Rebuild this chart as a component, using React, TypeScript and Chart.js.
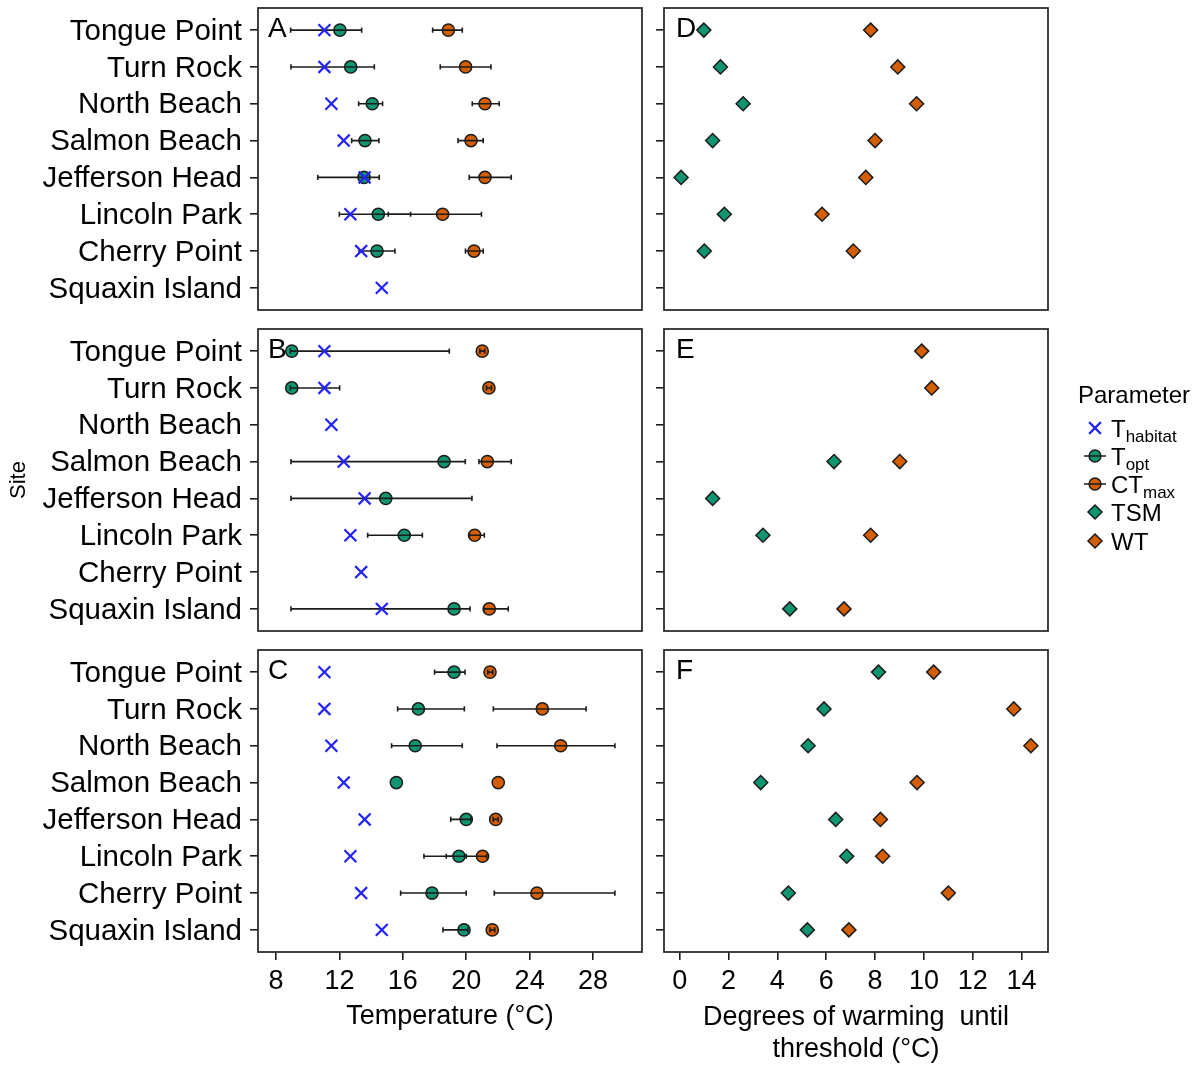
import React, { useEffect, useRef } from 'react';
import { Chart, registerables } from 'chart.js';

Chart.register(...registerables);

// ---- data ---------------------------------------------------------------

const SITES = [
  'Tongue Point',
  'Turn Rock',
  'North Beach',
  'Salmon Beach',
  'Jefferson Head',
  'Lincoln Park',
  'Cherry Point',
  'Squaxin Island',
];

// Habitat temperature per site (shown in every temperature panel)
const T_HABITAT = [11.05, 11.05, 11.49, 12.27, 13.59, 12.69, 13.37, 14.67];

// Panel A
const A_TOPT = [12.03, 12.71, 14.07, 13.61, 13.55, 14.45, 14.37, null];
const A_TOPT_LO = [8.92, 8.94, 13.21, 12.77, 10.63, 11.99, 13.24, null];
const A_TOPT_HI = [13.4, 14.2, 14.72, 14.49, 14.51, 16.49, 15.5, null];
const A_CTMAX = [18.87, 19.96, 21.18, 20.3, 21.18, 18.51, 20.49, null];
const A_CTMAX_LO = [17.88, 18.36, 20.38, 19.48, 20.19, 15.08, 19.95, null];
const A_CTMAX_HI = [19.75, 21.56, 22.08, 21.07, 22.84, 20.96, 21.07, null];

// Panel B
const B_TOPT = [8.99, 8.99, null, 18.6, 14.92, 16.09, null, 19.23];
const B_TOPT_LO = [8.9, 8.9, null, 8.94, 8.94, 13.78, null, 8.94];
const B_TOPT_HI = [18.93, 12.01, null, 19.94, 20.36, 17.23, null, 20.24];
const B_CTMAX = [21.01, 21.43, null, 21.33, null, 20.53, null, 21.45];
const B_CTMAX_LO = [20.86, 21.28, null, 20.8, null, 20.2, null, 21.1];
const B_CTMAX_HI = [21.17, 21.59, null, 22.84, null, 21.14, null, 22.65];

// Panel C
const C_TOPT = [19.23, 16.98, 16.78, 15.59, 20.0, 19.54, 17.84, 19.86];
const C_TOPT_LO = [18.0, 15.67, 15.29, null, 19.02, 17.33, 15.86, 18.53];
const C_TOPT_HI = [19.92, 19.88, 19.75, null, 20.3, 20.0, 20.0, 20.1];
const C_CTMAX = [21.5, 24.8, 25.96, 22.02, 21.86, 21.03, 24.46, 21.64];
const C_CTMAX_LO = [21.36, 21.71, 21.94, null, 21.7, 18.74, 21.77, 21.5];
const C_CTMAX_HI = [21.67, 27.56, 29.38, null, 22.02, 21.3, 29.38, 21.8];

// Panels D, E, F: thermal safety margin and warming tolerance
const D_TSM = [0.99, 1.67, 2.6, 1.35, 0.06, 1.83, 1.01, null];
const D_WT = [7.82, 8.93, 9.7, 8.0, 7.62, 5.83, 7.11, null];
const E_TSM = [null, null, null, 6.32, 1.35, 3.41, null, 4.51];
const E_WT = [9.91, 10.32, null, 9.01, null, 7.82, null, 6.73];
const F_TSM = [8.14, 5.91, 5.26, 3.32, 6.39, 6.84, 4.45, 5.23];
const F_WT = [10.4, 13.68, 14.38, 9.72, 8.22, 8.31, 11.0, 6.93];

const TEMP_TICKS = [8, 12, 16, 20, 24, 28];
const WARM_TICKS = [0, 2, 4, 6, 8, 10, 12, 14];
const TEMP_RANGE = [6.86, 31.09];
const WARM_RANGE = [-0.64, 15.08];

const TEMP_TITLE = ['Temperature (°C)'];
const WARM_TITLE = ['Degrees of warming  until', 'threshold (°C)'];
const SITE_TITLE = 'Site';

const LEGEND_TITLE = 'Parameter';
const LEGEND_ITEMS = [
  { main: 'T', sub: 'habitat', symbol: 'cross' },
  { main: 'T', sub: 'opt', symbol: 'dotGreen' },
  { main: 'CT', sub: 'max', symbol: 'dotOrange' },
  { main: 'TSM', sub: '', symbol: 'diamondGreen' },
  { main: 'WT', sub: '', symbol: 'diamondOrange' },
];

// ---- styling / layout ----------------------------------------------------

const PAGE_W = 1201;
const PAGE_H = 1066;
// canvases start above the page so the top panel has room for label overhang
const LIFT = 40;
const CANVAS_H = PAGE_H + LIFT;
const FONT = "'Liberation Sans', Arial, Helvetica, sans-serif";
const INK = '#000000';
const EDGE = '#1c1c1c';
const FRAME = '#2e2e2e';
const BLUE = '#2323ff';
const GREEN = '#0f9670';
const ORANGE = '#d55e00';

// panel boxes in page coordinates
const ROWS = [
  { top: 8, bottom: 310 },
  { top: 329, bottom: 631 },
  { top: 650, bottom: 952 },
];
const COLS = [
  { left: 258, right: 642 },
  { left: 664, right: 1048 },
];

type Vals = (number | null)[];
type ErrBar = { dataset: number; lo: Vals; hi: Vals };

interface PanelSpec {
  key: string;
  letter: string;
  row: number;
  col: number;
  datasets: any[];
  errBars: ErrBar[];
  range: number[];
  ticks: number[];
  xTitle: string[] | null;
  xTitlePad: number;
  siteTitle: boolean;
  legend: boolean;
}

const points = (vals: Vals) =>
  vals.flatMap((v, i) => (v == null ? [] : [{ x: v, y: i }]));

const habitatSet = () => ({
  label: 'T habitat',
  data: points(T_HABITAT),
  pointStyle: 'crossRot',
  pointRadius: 8.4,
  pointBorderWidth: 2.2,
  pointBorderColor: BLUE,
  pointBackgroundColor: BLUE,
});

const dotSet = (label: string, vals: Vals, color: string) => ({
  label,
  data: points(vals),
  pointStyle: 'circle',
  pointRadius: 6.1,
  pointBorderWidth: 1.5,
  pointBorderColor: EDGE,
  pointBackgroundColor: color,
});

const diamondSet = (label: string, vals: Vals, color: string) => ({
  label,
  data: points(vals),
  pointStyle: 'rectRot',
  pointRadius: 7,
  pointBorderWidth: 1.5,
  pointBorderColor: EDGE,
  pointBackgroundColor: color,
});

const tempPanel = (
  key: string,
  letter: string,
  row: number,
  topt: Vals, toptLo: Vals, toptHi: Vals,
  ctmax: Vals, ctmaxLo: Vals, ctmaxHi: Vals,
): PanelSpec => ({
  key,
  letter,
  row,
  col: 0,
  datasets: [habitatSet(), dotSet('T opt', topt, GREEN), dotSet('CT max', ctmax, ORANGE)],
  errBars: [
    { dataset: 1, lo: toptLo, hi: toptHi },
    { dataset: 2, lo: ctmaxLo, hi: ctmaxHi },
  ],
  range: TEMP_RANGE,
  ticks: TEMP_TICKS,
  xTitle: row === 2 ? TEMP_TITLE : null,
  xTitlePad: 33,
  siteTitle: row === 1,
  legend: false,
});

const warmPanel = (key: string, letter: string, row: number, tsm: Vals, wt: Vals): PanelSpec => ({
  key,
  letter,
  row,
  col: 1,
  datasets: [diamondSet('TSM', tsm, GREEN), diamondSet('WT', wt, ORANGE)],
  errBars: [],
  range: WARM_RANGE,
  ticks: WARM_TICKS,
  xTitle: row === 2 ? WARM_TITLE : null,
  xTitlePad: 0,
  siteTitle: false,
  legend: row === 1,
});

const PANELS: PanelSpec[] = [
  tempPanel('A', 'A', 0, A_TOPT, A_TOPT_LO, A_TOPT_HI, A_CTMAX, A_CTMAX_LO, A_CTMAX_HI),
  tempPanel('B', 'B', 1, B_TOPT, B_TOPT_LO, B_TOPT_HI, B_CTMAX, B_CTMAX_LO, B_CTMAX_HI),
  tempPanel('C', 'C', 2, C_TOPT, C_TOPT_LO, C_TOPT_HI, C_CTMAX, C_CTMAX_LO, C_CTMAX_HI),
  warmPanel('D', 'D', 0, D_TSM, D_WT),
  warmPanel('E', 'E', 1, E_TSM, E_WT),
  warmPanel('F', 'F', 2, F_TSM, F_WT),
];

// ---- drawing helpers -----------------------------------------------------

function drawSymbol(ctx: CanvasRenderingContext2D, kind: string, cx: number, cy: number) {
  ctx.save();
  if (kind === 'cross') {
    const d = 5.9;
    ctx.strokeStyle = BLUE;
    ctx.lineWidth = 2.2;
    ctx.beginPath();
    ctx.moveTo(cx - d, cy - d);
    ctx.lineTo(cx + d, cy + d);
    ctx.moveTo(cx + d, cy - d);
    ctx.lineTo(cx - d, cy + d);
    ctx.stroke();
  } else if (kind.startsWith('dot')) {
    ctx.fillStyle = kind === 'dotGreen' ? GREEN : ORANGE;
    ctx.strokeStyle = EDGE;
    ctx.lineWidth = 1.5;
    ctx.beginPath();
    ctx.arc(cx, cy, 5.9, 0, Math.PI * 2);
    ctx.fill();
    ctx.stroke();
    ctx.beginPath();
    ctx.moveTo(cx - 11, cy);
    ctx.lineTo(cx + 11, cy);
    ctx.stroke();
  } else {
    const r = 7;
    ctx.fillStyle = kind === 'diamondGreen' ? GREEN : ORANGE;
    ctx.strokeStyle = EDGE;
    ctx.lineWidth = 1.5;
    ctx.beginPath();
    ctx.moveTo(cx, cy - r);
    ctx.lineTo(cx + r, cy);
    ctx.lineTo(cx, cy + r);
    ctx.lineTo(cx - r, cy);
    ctx.closePath();
    ctx.fill();
    ctx.stroke();
  }
  ctx.restore();
}

// legend block, drawn in page coordinates shifted by the canvas lift
function drawLegend(ctx: CanvasRenderingContext2D) {
  const rowY = [428, 456, 484, 512, 541];
  ctx.save();
  ctx.translate(0, LIFT);
  ctx.fillStyle = INK;
  ctx.textBaseline = 'alphabetic';
  ctx.textAlign = 'left';
  ctx.font = `24px ${FONT}`;
  ctx.fillText(LEGEND_TITLE, 1078, 403);
  LEGEND_ITEMS.forEach((item, i) => {
    const cy = rowY[i];
    drawSymbol(ctx, item.symbol, 1095, cy);
    const base = cy + 8.5;
    ctx.font = `24px ${FONT}`;
    ctx.fillText(item.main, 1111, base);
    if (item.sub) {
      const w = ctx.measureText(item.main).width;
      ctx.font = `17px ${FONT}`;
      ctx.fillText(item.sub, 1111 + w, base + 5);
    }
  });
  ctx.restore();
}

const decorPlugin = (spec: PanelSpec) => ({
  id: 'panelDecor',
  afterDatasetDraw(chart: any, args: any) {
    const bar = spec.errBars.find((b) => b.dataset === args.index);
    if (!bar) return;
    const { ctx } = chart;
    const xs = chart.scales.x;
    const ys = chart.scales.y;
    ctx.save();
    ctx.strokeStyle = EDGE;
    ctx.lineWidth = 1.6;
    bar.lo.forEach((lo, i) => {
      const hi = bar.hi[i];
      if (lo == null || hi == null) return;
      const py = ys.getPixelForValue(i);
      const x1 = xs.getPixelForValue(lo);
      const x2 = xs.getPixelForValue(hi);
      ctx.beginPath();
      ctx.moveTo(x1, py);
      ctx.lineTo(x2, py);
      ctx.moveTo(x1, py - 2.6);
      ctx.lineTo(x1, py + 2.6);
      ctx.moveTo(x2, py - 2.6);
      ctx.lineTo(x2, py + 2.6);
      ctx.stroke();
    });
    ctx.restore();
  },
  afterDraw(chart: any) {
    const { ctx, chartArea } = chart;
    ctx.save();
    ctx.strokeStyle = FRAME;
    ctx.lineWidth = 1.8;
    ctx.strokeRect(chartArea.left, chartArea.top, chartArea.right - chartArea.left, chartArea.bottom - chartArea.top);
    ctx.fillStyle = INK;
    ctx.font = `28px ${FONT}`;
    ctx.textBaseline = 'alphabetic';
    ctx.textAlign = 'left';
    ctx.fillText(spec.letter, chartArea.left + (spec.col === 0 ? 10 : 12), chartArea.top + 29);
    ctx.restore();
    if (spec.legend) drawLegend(ctx);
  },
});

const zeroPadding = (s: any) => {
  s.paddingLeft = 0;
  s.paddingRight = 0;
  s.paddingTop = 0;
  s.paddingBottom = 0;
};

function buildConfig(spec: PanelSpec): any {
  const row = ROWS[spec.row];
  const col = COLS[spec.col];
  const isBottom = spec.xTitle != null;
  const yAxisW = spec.col === 0 ? col.left : 22;
  const gridStyle = {
    display: true,
    drawOnChartArea: false,
    drawTicks: true,
    tickLength: 8,
    lineWidth: 1.6,
    tickWidth: 1.6,
    color: EDGE,
    tickColor: EDGE,
  };
  return {
    type: 'scatter',
    data: { datasets: spec.datasets },
    options: {
      responsive: false,
      animation: false,
      devicePixelRatio: 1,
      events: [],
      layout: {
        padding: {
          left: col.left - yAxisW,
          right: PAGE_W - col.right,
          top: row.top + LIFT,
          bottom: isBottom ? 0 : PAGE_H - row.bottom,
        },
      },
      plugins: { legend: { display: false }, tooltip: { enabled: false } },
      scales: {
        x: {
          type: 'linear',
          display: isBottom,
          min: spec.range[0],
          max: spec.range[1],
          afterBuildTicks: (s: any) => {
            s.ticks = spec.ticks.map((v) => ({ value: v }));
          },
          ticks: {
            autoSkip: false,
            maxRotation: 0,
            padding: 5,
            color: INK,
            font: { family: FONT, size: 27 },
            callback: (v: any) => String(v),
          },
          grid: gridStyle,
          border: { display: false },
          title: {
            display: isBottom,
            text: spec.xTitle ?? '',
            color: INK,
            font: { family: FONT, size: 27, lineHeight: '32px' },
            padding: { top: 0, bottom: spec.xTitlePad },
          },
          afterFit: (s: any) => {
            s.height = isBottom ? PAGE_H - row.bottom : 0;
            zeroPadding(s);
          },
        },
        y: {
          type: 'linear',
          reverse: true,
          min: -0.6,
          max: SITES.length - 0.4,
          afterBuildTicks: (s: any) => {
            s.ticks = SITES.map((_, i) => ({ value: i }));
          },
          ticks: {
            display: spec.col === 0,
            autoSkip: false,
            padding: 8,
            labelOffset: 1.5,
            color: INK,
            font: { family: FONT, size: 29.5 },
            callback: (v: any) => SITES[v] ?? '',
          },
          grid: gridStyle,
          border: { display: false },
          title: {
            display: spec.siteTitle,
            text: SITE_TITLE,
            color: INK,
            font: { family: FONT, size: 22 },
            padding: { top: 6, bottom: 0 },
          },
          afterFit: (s: any) => {
            s.width = yAxisW;
            zeroPadding(s);
          },
        },
      },
    },
    plugins: [decorPlugin(spec)],
  };
}

function Panel({ spec }: { spec: PanelSpec }) {
  const ref = useRef<HTMLCanvasElement>(null);
  useEffect(() => {
    const canvas = ref.current;
    if (!canvas) return;
    const chart = new Chart(canvas, buildConfig(spec));
    return () => chart.destroy();
  }, [spec]);
  return (
    <canvas
      ref={ref}
      width={PAGE_W}
      height={CANVAS_H}
      style={{
        position: 'absolute',
        left: 0,
        top: -LIFT,
        width: PAGE_W,
        height: CANVAS_H,
        pointerEvents: 'none',
      }}
    />
  );
}

export default function App() {
  return (
    <div
      style={{
        position: 'absolute',
        left: 0,
        top: 0,
        width: PAGE_W,
        height: PAGE_H,
        background: '#ffffff',
        overflow: 'hidden',
      }}
    >
      {PANELS.map((p) => (
        <Panel key={p.key} spec={p} />
      ))}
    </div>
  );
}
